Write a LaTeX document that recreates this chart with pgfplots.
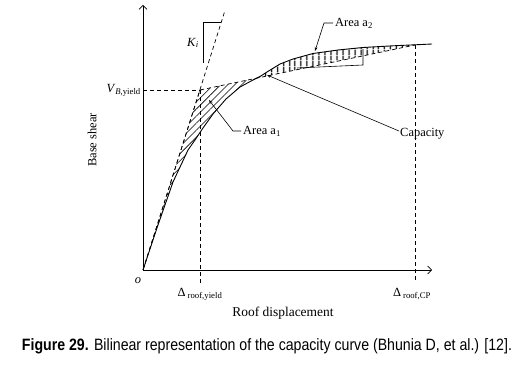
\documentclass[border=0pt]{standalone}
\usepackage{pgfplots}
\pgfplotsset{compat=1.18}
\usepackage{pgfplotstable}
\usepgfplotslibrary{fillbetween}
\usetikzlibrary{patterns.meta,arrows.meta}
\usepackage{graphicx}
\usepackage{fontspec}
\setmainfont{Liberation Serif}
\newfontfamily\capfont{Liberation Sans}

\pgfplotstableread{
x y
0 0
15 45
30 88
45 120
52 130
60 142
70 156
83 171
97 183
110 190
117 193.5
124 198
137 206
150 211
170 216.5
195 220
220 222.5
250 224.2
272 225.2
289 226
}\capacity

\pgfplotstableread{
x y
0 0
57 180
272 225
}\bilinear

\begin{document}
\begin{tikzpicture}[font=\fontsize{12.5}{14}\selectfont]
\begin{axis}[
  at={(0,0)}, anchor=origin,
  x=1bp, y=1bp,
  xmin=0, xmax=289, ymin=0, ymax=265,
  axis lines=left,
  axis line style={line width=0.7pt, -{Straight Barb[length=4bp]}},
  ticks=none,
  clip=false,
  every axis plot/.append style={line width=0.7pt},
]
\addplot[name path=cap, black, line width=0.9pt] table {\capacity};
\addplot[name path=bil, black, dash pattern=on 4bp off 3bp] table {\bilinear};
\addplot[draw=none, pattern={Lines[angle=45,distance=5bp,line width=0.6pt]}]
  fill between[of=cap and bil, soft clip={domain=0:116}];
\addplot[draw=none, pattern={Lines[angle=90,distance=6bp,line width=1.4pt]}]
  fill between[of=cap and bil, soft clip={domain=116:272}];
% initial stiffness and reference lines
\addplot[black, dash pattern=on 4bp off 3bp] coordinates {(0,0) (81.5,258)};
\addplot[black, dash pattern=on 4bp off 3bp] coordinates {(0,180) (57,180)};
\addplot[black, dash pattern=on 4bp off 3bp] coordinates {(57,180) (57,-13)};
\addplot[black, dash pattern=on 4bp off 3bp] coordinates {(272,225) (272,-13)};
% K_i bracket
\addplot[black, line width=0.6pt] coordinates {(78,248) (60,248) (60,207)};
% bracket near area a2
\addplot[black, line width=0.6pt] coordinates {(220,221) (220,205) (154,202)};
% leaders
\draw[line width=0.6pt, -{Stealth[length=4bp]}] (axis cs:98,139) -- (axis cs:90,139) -- (axis cs:66,170);
\draw[line width=0.6pt, -{Stealth[length=4bp]}] (axis cs:190,247) -- (axis cs:181,247) -- (axis cs:172,219);
\draw[line width=0.6pt, -{Stealth[length=4bp]}] (axis cs:256,139) -- (axis cs:124,195);
% labels
\node[anchor=east, inner sep=1bp] at (axis cs:-1,180) {\textit{V}\textsubscript{\textit{B},yield}};
\node[rotate=90] at (axis cs:-51,130) {Base shear};
\node at (axis cs:-5,-11) {\textit{o}};
\node at (axis cs:57,-24) {Δ\,\textsubscript{roof,yield}};
\node at (axis cs:269,-24) {Δ\,\textsubscript{roof,CP}};
\node at (axis cs:140,-43) {\fontsize{13.5}{15}\selectfont Roof displacement};
\node[anchor=west, inner sep=1bp] at (axis cs:99,139) {Area a\textsubscript{1}};
\node[anchor=west, inner sep=1bp] at (axis cs:191,247) {Area a\textsubscript{2}};
\node[anchor=west, inner sep=1bp] at (axis cs:256,136) {Capacity};
\node at (axis cs:50,227) {\textit{K}\textsubscript{\textit{i}}};
\node at (axis cs:124,-76) {\resizebox{490bp}{\height}{\capfont\fontsize{16.5}{18}\selectfont\textbf{Figure 29.} Bilinear representation of the capacity curve (Bhunia D, et al.) [12].}};
\end{axis}
\pgfresetboundingbox
\useasboundingbox (-143bp,-99bp) rectangle (380bp,270bp);
\end{tikzpicture}
\end{document}
